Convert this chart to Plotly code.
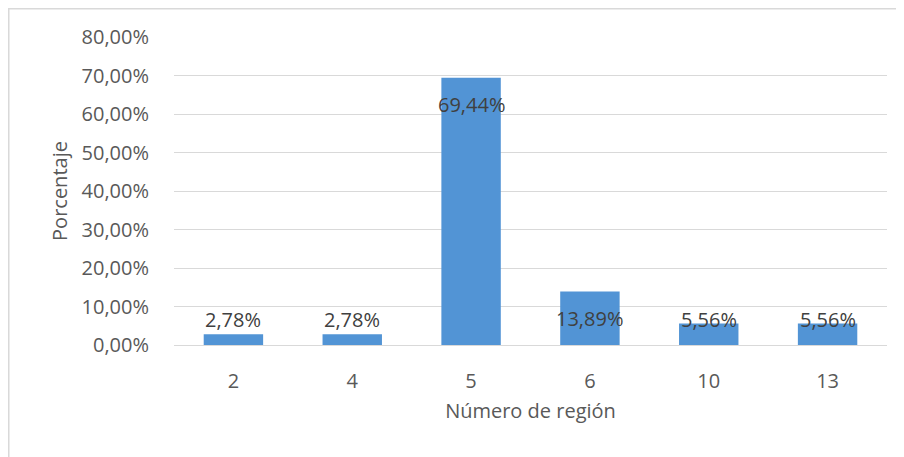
import plotly.graph_objects as go

categories = ["2", "4", "5", "6", "10", "13"]
values = [2.78, 2.78, 69.44, 13.89, 5.56, 5.56]
tick_vals = [0, 10, 20, 30, 40, 50, 60, 70, 80]
tick_labels = ["0,00%", "10,00%", "20,00%", "30,00%", "40,00%", "50,00%", "60,00%", "70,00%", "80,00%"]
value_labels = ["2,78%", "2,78%", "69,44%", "13,89%", "5,56%", "5,56%"]

FONT = "Open Sans"
FS = 20

fig = go.Figure()
fig.add_trace(go.Bar(
    x=list(range(len(categories))), y=values, width=0.5,
    marker=dict(color="#5294d5", line=dict(width=0)),
    hoverinfo="skip",
))

for i, (v, t) in enumerate(zip(values, value_labels)):
    fig.add_annotation(x=i, y=max(v - 7.0, 6.5), text=t, showarrow=False,
                       font=dict(family=FONT, size=FS, color="#404040"),
                       xanchor="center", yanchor="middle")

fig.add_shape(type="rect", xref="paper", yref="paper",
              x0=-0.2321, x1=1.06, y0=-0.42, y1=1.0925,
              line=dict(color="#d9d9d9", width=2), layer="below")

fig.update_layout(
    width=896, height=449,
    margin=dict(l=166, r=17, t=29, b=112, autoexpand=False),
    paper_bgcolor="white", plot_bgcolor="white",
    showlegend=False,
    font=dict(family=FONT, size=FS, color="#595959"),
    xaxis=dict(
        range=[-0.5, len(categories) - 0.5],
        tickvals=list(range(len(categories))), ticktext=categories,
        showgrid=False, zeroline=False, showline=False,
        ticks="", ticklabelstandoff=22, tickfont=dict(size=FS, color="#595959"),
        title=dict(text="Número de región", font=dict(size=FS, color="#595959"), standoff=10),
        automargin=False,
    ),
    yaxis=dict(
        range=[0, 80], tickvals=tick_vals, ticktext=tick_labels,
        showgrid=True, gridcolor="#d9d9d9", gridwidth=1.3,
        zeroline=True, zerolinecolor="#d9d9d9", zerolinewidth=1.3,
        showline=False, ticks="", ticklabelstandoff=24,
        tickfont=dict(size=FS, color="#595959"),
        title=dict(text="Porcentaje", font=dict(size=FS, color="#595959"), standoff=8),
        automargin=False,
    ),
)

fig.write_html("out.html")
